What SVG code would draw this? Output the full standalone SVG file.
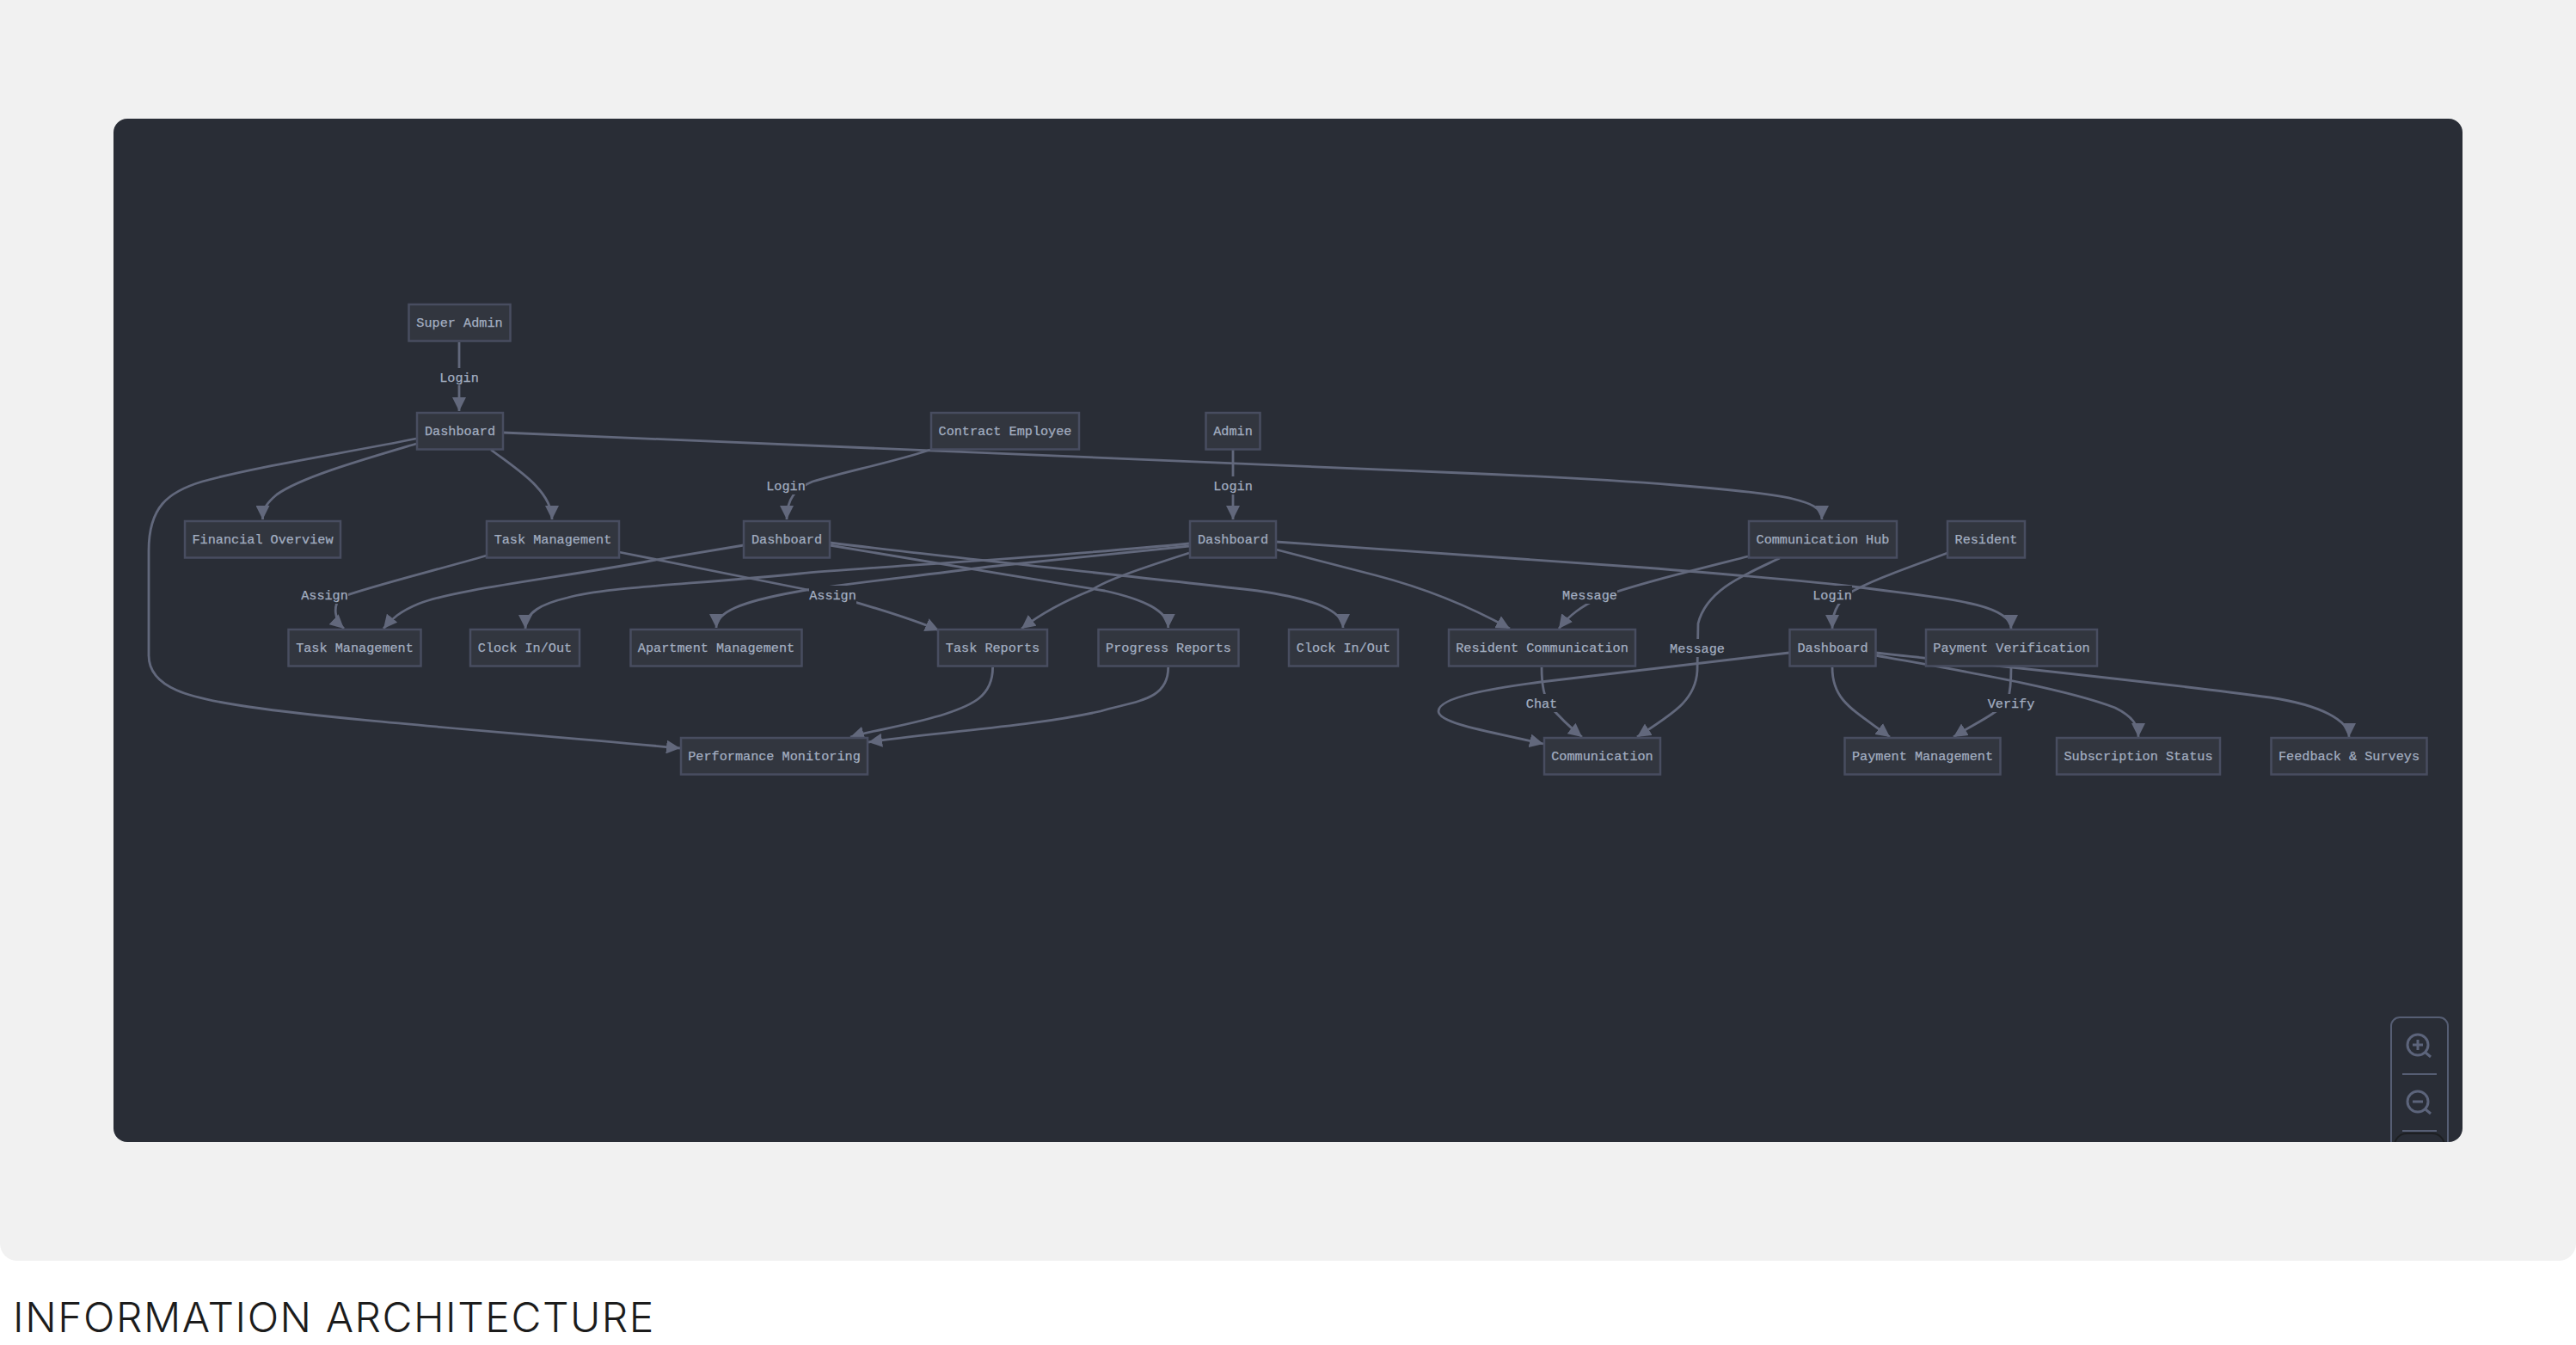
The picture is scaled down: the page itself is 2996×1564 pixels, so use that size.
<svg xmlns="http://www.w3.org/2000/svg" width="2996" height="1564" viewBox="0 0 2996 1564">
<style>
.node rect{fill:#32363f;stroke:#484d60;stroke-width:2.5}
.node text,.label text{font-family:"Liberation Mono",monospace;font-size:15.2px;fill:#a3aec1;stroke:#a3aec1;stroke-width:.25;text-anchor:middle}
.label rect{fill:#292d36}
.edge{fill:none;stroke:#62687c;stroke-width:2.8;marker-end:url(#arrow)}
.ctl{fill:none;stroke:#565e74;stroke-width:2}
.ico{fill:none;stroke:#5c647b;stroke-width:3}
</style>
<defs>
<marker id="arrow" markerUnits="userSpaceOnUse" viewBox="0 0 10 10" refX="10" refY="5" markerWidth="16" markerHeight="16" orient="auto"><path d="M0,0 L10,5 L0,10 z" fill="#62687c"/></marker>
<clipPath id="panelClip"><rect x="132" y="138" width="2732" height="1190" rx="16"/></clipPath>
</defs>
<rect width="2996" height="1564" fill="#ffffff"/>
<rect id="backdrop" x="0" y="-30" width="2996" height="1496" rx="20" fill="#f1f1f1"/>
<rect id="panel" x="132" y="138" width="2732" height="1190" rx="16" fill="#292d36"/>
<g id="connectors">
<path class="edge" d="M534,398 L534,478"/>
<path class="edge" d="M484,516 C420,535 350,555 322,575 C310,585 305.5,592 305.5,604"/>
<path class="edge" d="M484,510 C400,527 300,542 235,560 C195,572 173,590 173,640 L173,762 C173,800 220,812 290,822 C400,838 600,852 791,870"/>
<path class="edge" d="M571,523 C600,545 642,570 642,604"/>
<path class="edge" d="M585,503 L1700,550 C1900,558 2040,570 2085,580 C2105,585 2119,590 2119,604"/>
<path class="edge" d="M1082,523 C1040,537 985,548 945,560 C925,568 915,580 915,604"/>
<path class="edge" d="M1434,523 L1434,604"/>
<path class="edge" d="M566,646 C500,665 430,682 395,695 C388,705 388,720 400,731"/>
<path class="edge" d="M865,634 L757,652 C650,672 530,685 487,702 C465,711 455,720 446,731"/>
<path class="edge" d="M1383,632 C1200,650 1000,660 930,667 C800,680 700,683 660,695 C630,702 611,712 611,731"/>
<path class="edge" d="M1383,635 L1150,659 C1050,672 970,680 927,688 C860,700 833,712 833,730"/>
<path class="edge" d="M720,642 L960,690 C1000,702 1050,715 1092,733"/>
<path class="edge" d="M965,634 C1060,650 1180,670 1285,687 C1330,697 1358.7,710 1358.7,730"/>
<path class="edge" d="M965,631 C1100,648 1300,668 1463,687 C1530,697 1562,710 1562,730"/>
<path class="edge" d="M1383,643 C1330,660 1285,675 1270,686 C1235,700 1205,718 1188,731"/>
<path class="edge" d="M1154.6,776 C1154.6,810 1130,820 1100,830 C1060,843 1020,848 989,857"/>
<path class="edge" d="M1358.7,776 C1358.7,815 1320,815 1280,827 C1200,845 1100,850 1010,863"/>
<path class="edge" d="M1484,639 L1600,669 C1650,682 1700,700 1756,731"/>
<path class="edge" d="M1484,630 L1912,660 C2000,667 2100,675 2163,683 C2250,695 2339,700 2339,731"/>
<path class="edge" d="M2033,647 C1970,663 1900,680 1860,695 C1840,705 1825,715 1813,731"/>
<path class="edge" d="M2070,649 C2030,668 1985,685 1975,725 L1974,780 C1972,815 1945,830 1904,857"/>
<path class="edge" d="M2265,643 C2220,660 2180,673 2150,690 C2135,703 2131,715 2131,731"/>
<path class="edge" d="M1793,776 C1793,800 1797,810 1800,818 C1812,832 1825,845 1840,857"/>
<path class="edge" d="M2081,759 L1792,793 C1740,800 1673,810 1673,827 C1673,842 1740,852 1795,865"/>
<path class="edge" d="M2131,776 C2131,815 2155,825 2198,857"/>
<path class="edge" d="M2339,776 C2339,795 2338,805 2335,815 C2320,832 2295,842 2272,857"/>
<path class="edge" d="M2181,762 C2280,780 2400,800 2460,823 C2480,833 2487,843 2487,857"/>
<path class="edge" d="M2181,759 C2300,772 2500,792 2640,811 C2700,820 2732,838 2732,857"/>
</g>
<g id="nodes">
<g class="node" id="super-admin"><rect x="475.500" y="354" width="118" height="42.500"/><text x="534.500" y="379.500">Super Admin</text></g>
<g class="node" id="dashboard-sa"><rect x="485" y="480" width="100" height="42.500"/><text x="535" y="505.500">Dashboard</text></g>
<g class="node" id="contract-employee"><rect x="1083" y="480" width="172" height="42.500"/><text x="1169" y="505.500">Contract Employee</text></g>
<g class="node" id="admin"><rect x="1402.500" y="480" width="63" height="42.500"/><text x="1434" y="505.500">Admin</text></g>
<g class="node" id="financial"><rect x="215" y="606" width="181" height="42.500"/><text x="305.500" y="631.500">Financial Overview</text></g>
<g class="node" id="task-mgmt-1"><rect x="566" y="606" width="154" height="42.500"/><text x="643" y="631.500">Task Management</text></g>
<g class="node" id="dashboard-ce"><rect x="865" y="606" width="100" height="42.500"/><text x="915" y="631.500">Dashboard</text></g>
<g class="node" id="dashboard-admin"><rect x="1384" y="606" width="100" height="42.500"/><text x="1434" y="631.500">Dashboard</text></g>
<g class="node" id="comm-hub"><rect x="2034" y="606" width="172" height="42.500"/><text x="2120" y="631.500">Communication Hub</text></g>
<g class="node" id="resident"><rect x="2265" y="606" width="90" height="42.500"/><text x="2310" y="631.500">Resident</text></g>
<g class="node" id="task-mgmt-2"><rect x="335.500" y="732" width="154" height="42.500"/><text x="412.500" y="757.500">Task Management</text></g>
<g class="node" id="clock-1"><rect x="547" y="732" width="127" height="42.500"/><text x="610.500" y="757.500">Clock In/Out</text></g>
<g class="node" id="apartment"><rect x="733.500" y="732" width="199" height="42.500"/><text x="833" y="757.500">Apartment Management</text></g>
<g class="node" id="task-reports"><rect x="1091" y="732" width="127" height="42.500"/><text x="1154.500" y="757.500">Task Reports</text></g>
<g class="node" id="progress-reports"><rect x="1277.500" y="732" width="163" height="42.500"/><text x="1359" y="757.500">Progress Reports</text></g>
<g class="node" id="clock-2"><rect x="1499" y="732" width="127" height="42.500"/><text x="1562.500" y="757.500">Clock In/Out</text></g>
<g class="node" id="resident-comm"><rect x="1685" y="732" width="217" height="42.500"/><text x="1793.500" y="757.500">Resident Communication</text></g>
<g class="node" id="dashboard-r"><rect x="2081.500" y="732" width="100" height="42.500"/><text x="2131.500" y="757.500">Dashboard</text></g>
<g class="node" id="payment-verif"><rect x="2240" y="732" width="199" height="42.500"/><text x="2339.500" y="757.500">Payment Verification</text></g>
<g class="node" id="perf"><rect x="792" y="858" width="217" height="42.500"/><text x="900.500" y="883.500">Performance Monitoring</text></g>
<g class="node" id="communication"><rect x="1796" y="858" width="135" height="42.500"/><text x="1863.500" y="883.500">Communication</text></g>
<g class="node" id="payment-mgmt"><rect x="2145.500" y="858" width="181" height="42.500"/><text x="2236" y="883.500">Payment Management</text></g>
<g class="node" id="subscription"><rect x="2392" y="858" width="190" height="42.500"/><text x="2487" y="883.500">Subscription Status</text></g>
<g class="node" id="feedback"><rect x="2641.500" y="858" width="181" height="42.500"/><text x="2732" y="883.500">Feedback &amp; Surveys</text></g>
</g>
<g id="edge-labels">
<g class="label"><rect x="511" y="428" width="46" height="20"/><text x="534" y="443.500">Login</text></g>
<g class="label"><rect x="891" y="554" width="46" height="21"/><text x="914" y="569.500">Login</text></g>
<g class="label"><rect x="1411" y="554" width="46" height="21"/><text x="1434" y="569.500">Login</text></g>
<g class="label"><rect x="350" y="681" width="55" height="21"/><text x="377.500" y="696.500">Assign</text></g>
<g class="label"><rect x="941" y="681" width="55" height="21"/><text x="968.500" y="696.500">Assign</text></g>
<g class="label"><rect x="1817" y="681" width="64" height="21"/><text x="1849" y="696.500">Message</text></g>
<g class="label"><rect x="2108" y="681" width="46" height="21"/><text x="2131" y="696.500">Login</text></g>
<g class="label"><rect x="1942" y="743" width="64" height="21"/><text x="1974" y="758.500">Message</text></g>
<g class="label"><rect x="1775" y="807" width="37" height="21"/><text x="1793" y="822.500">Chat</text></g>
<g class="label"><rect x="2311" y="807" width="55" height="21"/><text x="2339" y="822.500">Verify</text></g>
</g>
<g id="zoom-controls" clip-path="url(#panelClip)">
<rect class="ctl" x="2781" y="1183" width="66" height="200" rx="10"/>
<circle class="ico" cx="2812" cy="1215" r="12"/>
<path class="ico" d="M2806,1215 H2818 M2812,1209 V1221 M2821,1224 L2827,1229"/>
<path class="ctl" d="M2794,1249 H2834"/>
<circle class="ico" cx="2812" cy="1281" r="12"/>
<path class="ico" d="M2806,1281 H2818 M2821,1290 L2827,1295"/>
<path class="ctl" d="M2794,1315 H2834"/>
<rect x="2785" y="1318" width="58" height="60" rx="14" fill="#292d36" stroke="#1d1f22" stroke-width="2"/>
</g>
<text id="title" x="15" y="1549" font-family="Inter, sans-serif" font-weight="300" font-size="48" fill="#1c1c1c" letter-spacing="1.55">INFORMATION ARCHITECTURE</text>
</svg>
